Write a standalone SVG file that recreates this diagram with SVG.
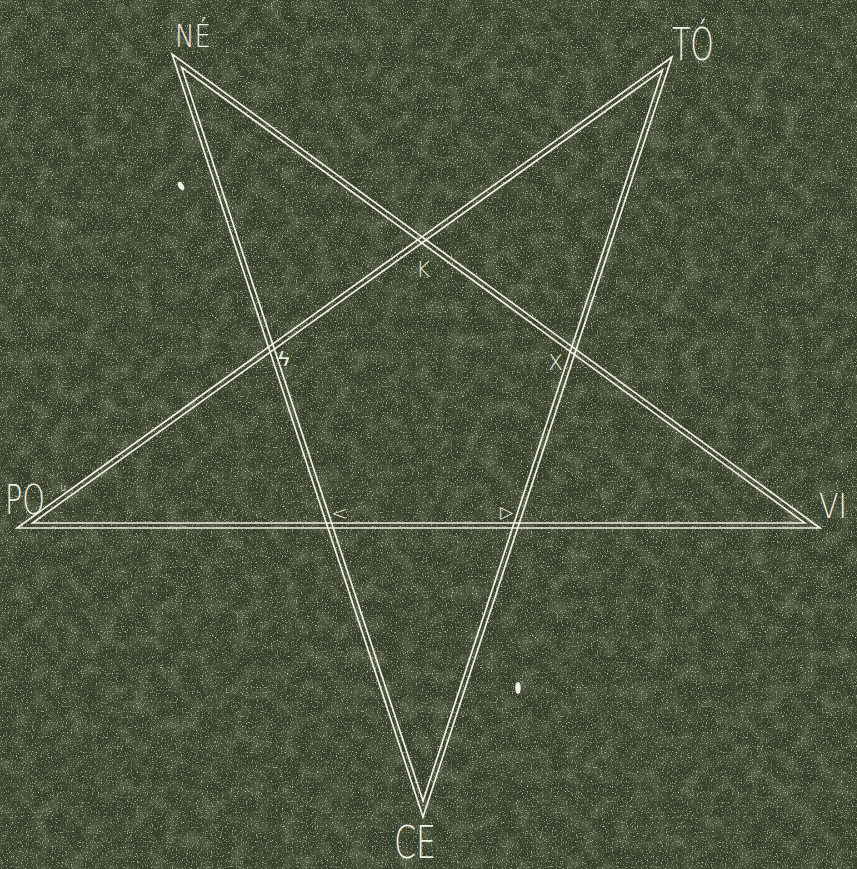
<svg xmlns="http://www.w3.org/2000/svg" width="857" height="869" viewBox="0 0 857 869">
<defs>
<filter id="grain" x="0" y="0" width="100%" height="100%">
 <feTurbulence type="fractalNoise" baseFrequency="0.8" numOctaves="2" seed="3" result="n"/>
 <feColorMatrix in="n" type="matrix" values="0 0 0 0 0.62  0 0 0 0 0.68  0 0 0 0 0.52  3.0 0 0 0 -1.65"/>
</filter>
<filter id="mottle" x="0" y="0" width="100%" height="100%">
 <feTurbulence type="fractalNoise" baseFrequency="0.06" numOctaves="3" seed="7"/>
 <feColorMatrix type="matrix" values="0 0 0 0 0.30  0 0 0 0 0.35  0 0 0 0 0.23  0.7 0 0 0 -0.28"/>
</filter>
<style>
.ln{fill:none;stroke:#f1f0e4;stroke-width:1.7;stroke-linejoin:miter;stroke-miterlimit:12}
.lb{font-family:"DejaVu Sans","Liberation Sans",sans-serif;font-weight:200;fill:#f1f0e4}
.mk{font-family:"DejaVu Sans","Liberation Sans",sans-serif;font-weight:200;fill:#ecebdf}
.dot{fill:#f1f0e4}
</style>
</defs>
<rect width="857" height="869" fill="#383f2a"/>
<rect width="857" height="869" filter="url(#mottle)"/>
<rect width="857" height="869" filter="url(#grain)"/>

<g id="connectors">
 <polygon class="ln" points="17,528 672,57 423,817 172,54 820,528"/>
 <polygon class="ln" points="32.5,523 662.5,70 423,801 181.6,67.2 804.7,523"/>
</g>

<g id="node-ne"><text class="lb" x="175" y="47" font-size="32" textLength="36" lengthAdjust="spacingAndGlyphs">NÉ</text></g>
<g id="node-to"><text class="lb" x="672" y="60" font-size="44" textLength="42" lengthAdjust="spacingAndGlyphs">TÓ</text></g>
<g id="node-po"><text class="lb" x="5" y="514" font-size="40" textLength="40" lengthAdjust="spacingAndGlyphs">PO</text></g>
<g id="node-vi"><text class="lb" x="819" y="518" font-size="34" textLength="28" lengthAdjust="spacingAndGlyphs">VI</text></g>
<g id="node-ce"><text class="lb" x="394" y="858" font-size="44" textLength="42" lengthAdjust="spacingAndGlyphs">CE</text></g>

<g id="marks">
 <text class="mk" x="416" y="277" font-size="22">K</text>
 <text class="mk" x="278" y="366" font-size="22">ϟ</text>
 <text class="mk" x="548" y="370" font-size="22">X</text>
 <text class="mk" x="331" y="520" font-size="20">&lt;</text>
 <text class="mk" x="500" y="518" font-size="17">▷</text>
 <text class="mk" x="60" y="491" font-size="10">u</text>
 <ellipse class="dot" cx="181" cy="186" rx="2.6" ry="4.5" transform="rotate(-30 181 186)"/>
 <ellipse class="dot" cx="518" cy="688" rx="2.8" ry="6"/>
</g>
</svg>
